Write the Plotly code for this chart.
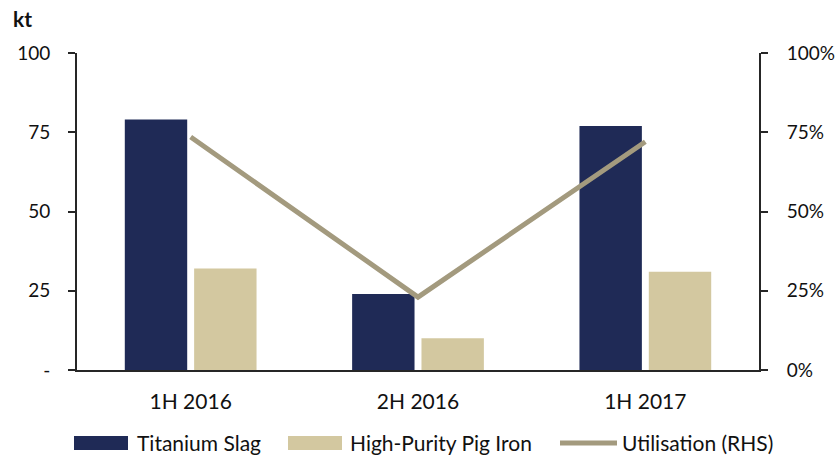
import plotly.graph_objects as go

categories = ["1H 2016", "2H 2016", "1H 2017"]
titanium_slag = [79, 24, 77]
pig_iron = [32, 10, 31]
utilisation = [0.735, 0.23, 0.72]

left_ticks = [0, 25, 50, 75, 100]
left_labels = ["-", "25", "50", "75", "100"]
right_ticks = [0, 0.25, 0.5, 0.75, 1.0]
right_labels = ["0%", "25%", "50%", "75%", "100%"]

series_names = ["Titanium Slag", "High-Purity Pig Iron", "Utilisation (RHS)"]
series_colors = ["#1F2A56", "#D3C8A0", "#A39A7E"]

FONT = "Lato"
AX = "#262626"
W, H = 836, 457
ML, MR, MT, MB = 77, 77, 53, 87
PW, PH = W - ML - MR, H - MT - MB


def px_x(p):
    return (p - ML) / PW


def px_y(p):
    return (H - MB - p) / PH


fig = go.Figure()
fig.add_trace(go.Bar(x=categories, y=titanium_slag, name=series_names[0],
                     marker=dict(color=series_colors[0], line=dict(width=0))))
fig.add_trace(go.Bar(x=categories, y=pig_iron, name=series_names[1],
                     marker=dict(color=series_colors[1], line=dict(width=0))))
fig.add_trace(go.Scatter(x=categories, y=utilisation, name=series_names[2],
                         mode="lines", yaxis="y2",
                         line=dict(color=series_colors[2], width=5)))

# custom legend (wide swatches like the original)
shapes = []
annotations = []
legend_items = [
    (74, 128, 135, "rect"),
    (288, 342, 348, "rect"),
    (560, 617, 620, "line"),
]
ly = 443
for (x0, x1, tx, kind), name, col in zip(legend_items, series_names, series_colors):
    if kind == "rect":
        shapes.append(dict(type="rect", xref="paper", yref="paper",
                           x0=px_x(x0), x1=px_x(x1), y0=px_y(ly + 7), y1=px_y(ly - 7),
                           fillcolor=col, line=dict(width=0)))
    else:
        shapes.append(dict(type="line", xref="paper", yref="paper",
                           x0=px_x(x0), x1=px_x(x1), y0=px_y(ly), y1=px_y(ly),
                           line=dict(color=col, width=5)))
    annotations.append(dict(text=name, xref="paper", yref="paper", x=px_x(tx), y=px_y(ly - 1),
                            xanchor="left", yanchor="middle", showarrow=False,
                            font=dict(size=21, family=FONT, color="#111111")))

annotations.append(dict(text="<b>kt</b>", xref="paper", yref="paper", x=px_x(11), y=px_y(18),
                        xanchor="left", yanchor="middle",
                        showarrow=False, font=dict(size=21, family=FONT, color="#111111")))

fig.update_layout(
    width=W, height=H,
    margin=dict(l=ML, r=MR, t=MT, b=MB),
    paper_bgcolor="white", plot_bgcolor="white",
    font=dict(family=FONT, size=19, color="#111111"),
    barmode="group", bargap=0.39, bargroupgap=0.1,
    showlegend=False,
    xaxis=dict(showline=True, linecolor=AX, linewidth=2, ticks="", showgrid=False,
               ticklabelstandoff=12, automargin=False, tickfont=dict(size=21)),
    yaxis=dict(range=[0, 100], tickvals=left_ticks, ticktext=left_labels,
               showline=True, linecolor=AX, linewidth=2, ticks="outside",
               ticklen=7, tickcolor=AX, tickwidth=2, showgrid=False, zeroline=False,
               ticklabelstandoff=14, automargin=False),
    yaxis2=dict(range=[0, 1], tickvals=right_ticks, ticktext=right_labels,
                overlaying="y", side="right",
                showline=True, linecolor=AX, linewidth=2, ticks="outside",
                ticklen=7, tickcolor=AX, tickwidth=2, showgrid=False, zeroline=False,
                ticklabelstandoff=15, automargin=False),
    shapes=shapes,
    annotations=annotations,
)

fig.write_html("out.html")
